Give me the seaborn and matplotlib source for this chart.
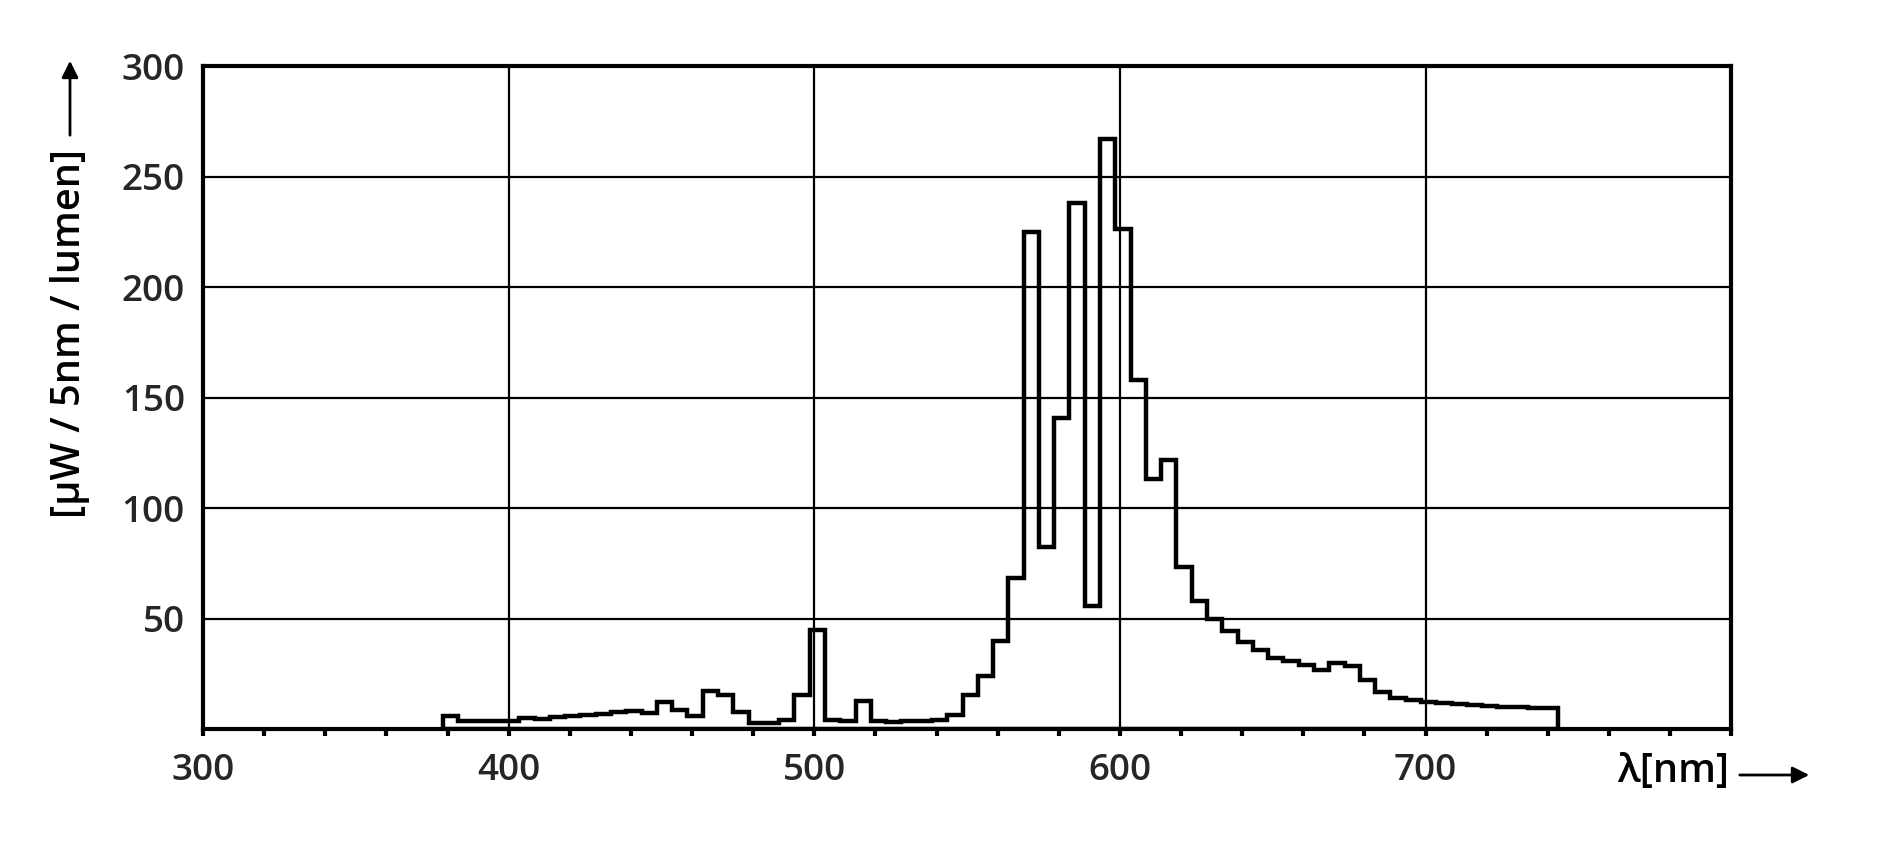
import numpy as np
import pandas as pd
import seaborn as sns
import matplotlib.pyplot as plt

# spectral power distribution, 5 nm bins
wavelength = list(range(380, 745, 5))
power = [6.0, 3.8, 3.7, 3.6, 3.5, 5.0, 4.5, 5.5, 6.0, 6.5,
         7.0, 7.6, 8.2, 7.3, 12.3, 8.5, 6.0, 17.3, 15.3, 7.8,
         2.5, 2.5, 4.0, 15.3, 44.7, 4.3, 3.5, 12.6, 3.8, 3.2,
         3.4, 3.6, 4.3, 6.5, 15.5, 23.8, 39.8, 68.3, 224.8, 82.4,
         140.9, 238.0, 55.5, 267.0, 226.2, 157.8, 113.3, 121.6, 73.5, 58.0,
         50.0, 44.2, 39.5, 35.6, 32.3, 30.9, 28.8, 26.8, 29.8, 28.4,
         22.4, 16.9, 14.0, 12.9, 12.3, 11.7, 11.3, 10.8, 10.4, 10.1,
         9.8, 9.5, 9.3]

x_ticks = [300, 400, 500, 600, 700, 800]
x_labels = ["300", "400", "500", "600", "700", ""]
y_ticks = [0, 50, 100, 150, 200, 250, 300]
y_labels = ["", "50", "100", "150", "200", "250", "300"]

df = pd.DataFrame({"wl": wavelength, "p": power})

sns.set_theme(style="white")
plt.rcParams["font.family"] = ["Open Sans", "DejaVu Sans"]
plt.rcParams["font.weight"] = "semibold"

fig = plt.figure(figsize=(18.92, 8.42), dpi=100)
ax = fig.add_axes([0.1073, 0.1342, 0.8077, 0.7874])

# filled step, then the face is made transparent so only the outline shows
sns.histplot(data=df, x="wl", weights="p", binwidth=5, binrange=(378.5, 743.5),
             element="step", fill=True, color="black", linewidth=3.2, ax=ax)
for coll in ax.collections:
    coll.set_facecolor("none")
    coll.set_edgecolor("black")
    coll.set_alpha(1)
    coll.set_joinstyle("miter")
    coll.set_zorder(3)

ax.set_xlim(300, 800)
ax.set_ylim(0, 300)
ax.set_xticks(x_ticks)
ax.set_xticklabels(x_labels)
ax.set_xticks(range(300, 801, 20), minor=True)
ax.set_yticks(y_ticks)
ax.set_yticklabels(y_labels)
ax.grid(True, which="major", color="black", linewidth=1.6)
ax.tick_params(axis="x", which="both", direction="out", length=5, width=3,
               bottom=True, color="black", labelsize=26.5, pad=12)
ax.tick_params(axis="y", length=0, labelsize=26.5, pad=13)
for s in ax.spines.values():
    s.set_color("black")
    s.set_linewidth(3)
    s.set_zorder(4)
ax.set_xlabel("")
ax.set_ylabel("")

# axis captions with arrows
fig.text(70 / 1892, 1 - 333 / 842, "[\u03bcW / 5nm / lumen]", rotation=90,
         ha="center", va="center", fontsize=28.5, color="black")
ax.annotate("", xy=(70, 842 - 58), xytext=(70, 842 - 138), xycoords="figure pixels",
            arrowprops=dict(arrowstyle="-|>", lw=2, color="black", mutation_scale=25))
fig.text(1729 / 1892, 1 - 772 / 842, "\u03bb[nm]", ha="right", va="center",
         fontsize=28.5, color="black")
ax.annotate("", xy=(1812, 842 - 775), xytext=(1737, 842 - 775), xycoords="figure pixels",
            arrowprops=dict(arrowstyle="-|>", lw=2, color="black", mutation_scale=25))

fig.savefig("out.png", dpi=100, facecolor="white")
